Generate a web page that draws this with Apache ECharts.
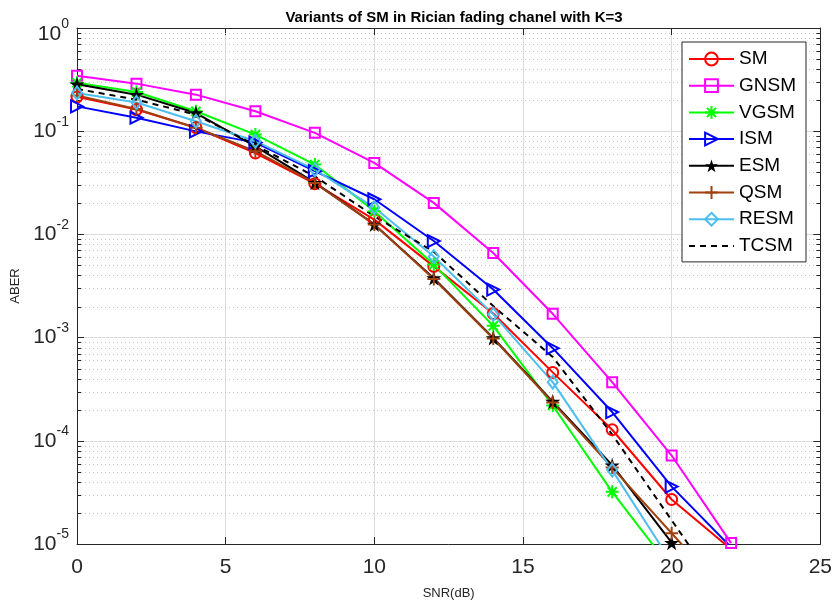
<!DOCTYPE html>
<html>
<head>
<meta charset="utf-8">
<title>Variants of SM in Rician fading chanel with K=3</title>
<script src="https://cdn.jsdelivr.net/npm/echarts@6/dist/echarts.min.js"></script>
<style>
  html, body { margin: 0; padding: 0; background: #fff; }
  #chart { width: 835px; height: 605px; }
</style>
</head>
<body>
<div id="chart"></div>
<script>
// SNR points (dB)
const snr = [0, 2, 4, 6, 8, 10, 12, 14, 16, 18, 20, 22];

// Average bit error rate per scheme
const SM   = [0.215, 0.162, 0.108, 0.0615, 0.031, 0.0139, 0.0049, 0.00171, 4.6e-4, 1.28e-4, 2.7e-5, 8.9e-6];
const GNSM = [0.345, 0.289, 0.226, 0.156, 0.0964, 0.0493, 0.0202, 0.0066, 0.0017, 3.7e-4, 7.2e-5, 1.02e-5];
const VGSM = [0.295, 0.24, 0.156, 0.0927, 0.0475, 0.0168, 0.0051, 0.0013, 2.2e-4, 3.2e-5, 5.7e-6];
const ISM  = [0.174, 0.135, 0.0996, 0.0775, 0.041, 0.0219, 0.00862, 0.00292, 7.9e-4, 1.9e-4, 3.6e-5, 9.3e-6];
const ESM  = [0.285, 0.226, 0.150, 0.0714, 0.0317, 0.0125, 0.00377, 9.9e-4, 2.4e-4, 5.8e-5, 1.03e-5];
const QSM  = [0.222, 0.164, 0.108, 0.064, 0.0315, 0.0125, 0.0037, 9.8e-4, 2.35e-4, 5.5e-5, 1.27e-5, 3e-6];
const RESM = [0.235, 0.19, 0.125, 0.080, 0.0425, 0.0182, 0.0061, 0.00168, 3.7e-4, 5.2e-5, 6.6e-6];
const TCSM = [0.257, 0.202, 0.145, 0.073, 0.0365, 0.015, 0.0068, 0.00202, 6.5e-4, 1.15e-4, 1.7e-5, 2.5e-6];

// Axis ticks
const xTicks = [0, 5, 10, 15, 20, 25];
const yDecades = [1e-5, 1e-4, 1e-3, 1e-2, 1e-1, 1];
const minorSteps = [2, 3, 4, 5, 6, 7, 8, 9];

const FONT = 'Liberation Sans, Arial, Helvetica, sans-serif';
const AXIS_COLOR = '#262626';

// marker shapes
const STAR = 'path://M0,-10L2.245,-3.09L9.511,-3.09L3.633,1.18L5.878,8.09L0,3.82L-5.878,8.09L-3.633,1.18L-9.511,-3.09L-2.245,-3.09Z';
const ASTERISK = 'path://M0,-10L0,10M-10,0L10,0M-7.07,-7.07L7.07,7.07M-7.07,7.07L7.07,-7.07';
const PLUS = 'path://M0,-10L0,10M-10,0L10,0';
const TRI_RIGHT = 'path://M-8,-10L10,0L-8,10Z';

function pairs(ys) { return ys.map((y, i) => [snr[i], y]); }

function curve(name, ys, color, symbol, size, marker, dashed) {
  // marker: 'hollow' | 'filled' | 'none'
  return {
    name: name,
    type: 'line',
    data: pairs(ys),
    color: color,
    symbol: symbol,
    symbolSize: size,
    showSymbol: marker !== 'none',
    showAllSymbol: true,
    clip: true,
    lineStyle: { color: color, width: 2, type: dashed ? [6, 5] : 'solid' },
    itemStyle: {
      color: marker === 'filled' ? color : 'rgba(0,0,0,0)',
      borderColor: marker === 'none' ? 'rgba(0,0,0,0)' : color,
      borderWidth: marker === 'hollow' ? 2 : 0
    },
    emphasis: { disabled: true },
    z: 3
  };
}

// minor decade positions for the dotted grid and small ticks
const minorValues = [];
yDecades.slice(0, -1).forEach(d => minorSteps.forEach(s => minorValues.push([0, s * d])));

const minorGrid = {
  type: 'custom',
  name: 'minor',
  silent: true,
  clip: false,
  z: 1,
  data: minorValues,
  renderItem: function (params, api) {
    const v = api.value(1);
    const p0 = api.coord([0, v]);
    const p1 = api.coord([25, v]);
    const y = Math.round(p0[1]) + 0.5;
    return {
      type: 'group',
      children: [
        { type: 'line', shape: { x1: p0[0], y1: y, x2: p1[0], y2: y },
          style: { stroke: '#c4c4c4', lineWidth: 1, lineDash: [1, 3] } },
        { type: 'line', shape: { x1: p0[0], y1: y, x2: p0[0] + 4, y2: y },
          style: { stroke: AXIS_COLOR, lineWidth: 1 } },
        { type: 'line', shape: { x1: p1[0] - 4, y1: y, x2: p1[0], y2: y },
          style: { stroke: AXIS_COLOR, lineWidth: 1 } }
      ]
    };
  }
};

const chart = echarts.init(document.getElementById('chart'), null, { renderer: 'canvas' });

const yLog = {
  type: 'log',
  logBase: 10,
  min: yDecades[0],
  max: yDecades[yDecades.length - 1]
};

chart.setOption({
  animation: false,
  backgroundColor: '#fff',
  textStyle: { fontFamily: FONT },
  title: {
    text: 'Variants of SM in Rician fading chanel with K=3',
    left: 449,
    textAlign: 'center',
    top: 5,
    textStyle: { fontFamily: FONT, fontSize: 15, fontWeight: 'bold', color: '#000' }
  },
  grid: { left: 77, right: 12, top: 28, bottom: 60, containLabel: false },
  legend: {
    data: ['SM', 'GNSM', 'VGSM', 'ISM', 'ESM', 'QSM', 'RESM', 'TCSM'],
    orient: 'vertical',
    left: 682,
    top: 42,
    padding: [7, 10, 6, 6],
    itemGap: 6.7,
    itemWidth: 45,
    itemHeight: 16,
    borderColor: AXIS_COLOR,
    borderWidth: 1,
    backgroundColor: '#fff',
    selectedMode: false,
    textStyle: { fontFamily: FONT, fontSize: 19, lineHeight: 20, color: '#000' }
  },
  xAxis: [
    {
      type: 'value',
      min: xTicks[0],
      max: xTicks[xTicks.length - 1],
      interval: 5,
      name: 'SNR(dB)',
      nameLocation: 'middle',
      nameGap: 43,
      nameTextStyle: { fontFamily: FONT, fontSize: 13, color: AXIS_COLOR },
      axisLine: { show: true, onZero: false, lineStyle: { color: AXIS_COLOR, width: 1 } },
      axisTick: { show: true, inside: true, length: 7, lineStyle: { color: AXIS_COLOR } },
      axisLabel: { fontFamily: FONT, fontSize: 21, color: AXIS_COLOR, margin: 13 },
      splitLine: { show: true, lineStyle: { color: '#dcdcdc', width: 1 } }
    },
    {
      type: 'value',
      position: 'top',
      min: xTicks[0],
      max: xTicks[xTicks.length - 1],
      interval: 5,
      axisLine: { show: true, onZero: false, lineStyle: { color: AXIS_COLOR, width: 1 } },
      axisTick: { show: true, inside: true, length: 7, lineStyle: { color: AXIS_COLOR } },
      axisLabel: { show: false },
      splitLine: { show: false }
    }
  ],
  yAxis: [
    Object.assign({}, yLog, {
      name: 'ABER',
      nameLocation: 'middle',
      nameGap: 54,
      nameTextStyle: { fontFamily: FONT, fontSize: 13, color: AXIS_COLOR },
      axisLine: { show: true, onZero: false, lineStyle: { color: AXIS_COLOR, width: 1 } },
      axisTick: { show: true, inside: true, length: 7, lineStyle: { color: AXIS_COLOR } },
      axisLabel: {
        margin: 8,
        formatter: function (v) {
          const e = Math.round(Math.log10(v));
          // the top label sits a little lower so it stays inside the figure
          if (e === 0) return '{bt|10}{st|' + e + '}';
          return '{b|10}{s|' + e + '}';
        },
        rich: {
          b: { fontFamily: FONT, fontSize: 21, color: AXIS_COLOR },
          s: { fontFamily: FONT, fontSize: 14, color: AXIS_COLOR, padding: [0, 0, 19, 0] },
          bt: { fontFamily: FONT, fontSize: 21, color: AXIS_COLOR, padding: [12, 0, 0, 0] },
          st: { fontFamily: FONT, fontSize: 14, color: AXIS_COLOR, padding: [0, 0, 7, 0] }
        }
      },
      splitLine: { show: true, lineStyle: { color: '#dcdcdc', width: 1 } }
    }),
    Object.assign({}, yLog, {
      position: 'right',
      axisLine: { show: true, onZero: false, lineStyle: { color: AXIS_COLOR, width: 1 } },
      axisTick: { show: true, inside: true, length: 7, lineStyle: { color: AXIS_COLOR } },
      axisLabel: { show: false },
      splitLine: { show: false }
    })
  ],
  series: [
    minorGrid,
    curve('SM', SM, '#ff0000', 'circle', 11, 'hollow', false),
    curve('GNSM', GNSM, '#ff00ff', 'rect', 10, 'hollow', false),
    curve('VGSM', VGSM, '#00ff00', ASTERISK, 13, 'hollow', false),
    curve('ISM', ISM, '#0000ff', TRI_RIGHT, 12, 'hollow', false),
    curve('ESM', ESM, '#000000', STAR, 15, 'filled', false),
    curve('QSM', QSM, '#a0410f', PLUS, 13, 'hollow', false),
    curve('RESM', RESM, '#4dbeee', 'diamond', [10, 13], 'hollow', false),
    curve('TCSM', TCSM, '#000000', 'circle', 0, 'none', true)
  ]
});
</script>
</body>
</html>
